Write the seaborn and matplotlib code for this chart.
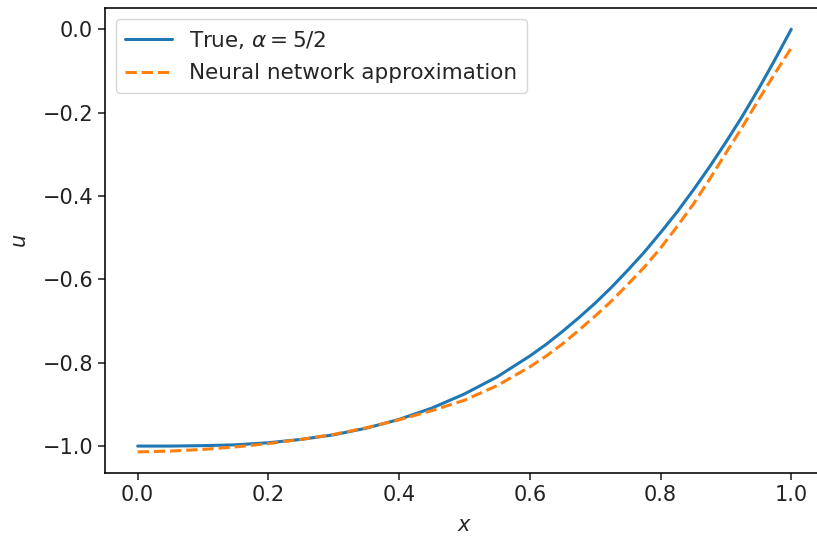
import numpy as np
import pandas as pd
import seaborn as sns
import matplotlib
matplotlib.use("Agg")
import matplotlib.pyplot as plt

# Sample positions on [0, 1]
x_vals = [0.000, 0.050, 0.100, 0.150, 0.200, 0.250, 0.300, 0.350, 0.400,
          0.450, 0.500, 0.550, 0.600, 0.625, 0.650, 0.675, 0.700, 0.725,
          0.750, 0.775, 0.800, 0.825, 0.850, 0.875, 0.900, 0.925, 0.950,
          0.975, 1.000]

# Exact solution
u_true = [-1.000, -1.000, -0.999, -0.997, -0.992, -0.984, -0.973, -0.957,
          -0.936, -0.909, -0.875, -0.834, -0.784, -0.756, -0.725, -0.692,
          -0.657, -0.619, -0.578, -0.535, -0.488, -0.439, -0.386, -0.330,
          -0.271, -0.209, -0.143, -0.073, 0.000]

# Network output
u_nn = [-1.014, -1.012, -1.008, -1.002, -0.994, -0.984, -0.972, -0.956,
        -0.937, -0.915, -0.890, -0.855, -0.810, -0.784, -0.755, -0.722,
        -0.688, -0.652, -0.612, -0.571, -0.525, -0.474, -0.420, -0.360,
        -0.297, -0.235, -0.169, -0.106, -0.045]

label_true = r"True, $\alpha = 5/2$"
label_nn = "Neural network approximation"

df_true = pd.DataFrame({"x": x_vals, "u": u_true})
df_nn = pd.DataFrame({"x": x_vals, "u": u_nn})

sns.set_theme(style="ticks", rc={
    "axes.edgecolor": "black",
    "axes.linewidth": 1.15,
    "xtick.major.width": 1.15,
    "ytick.major.width": 1.15,
    "xtick.major.size": 5.0,
    "ytick.major.size": 5.0,
    "xtick.color": "#222222",
    "ytick.color": "#222222",
    "font.size": 15,
    "axes.labelsize": 15,
    "xtick.labelsize": 15,
    "ytick.labelsize": 15,
    "legend.fontsize": 15.5,
    "mathtext.fontset": "dejavusans",
})
plt.rcParams["font.family"] = ["DejaVu Sans"]

fig = plt.figure(figsize=(8.17, 5.40), dpi=100)
ax = fig.add_axes([0.1285, 0.124, 0.880, 0.861])

sns.lineplot(data=df_true, x="x", y="u", ax=ax, color="#1f77b4",
             linewidth=2.2, label=label_true)
sns.lineplot(data=df_nn, x="x", y="u", ax=ax, color="#ff7f0e",
             linewidth=2.2, linestyle="--", label=label_nn)

ax.set_xticks([0.0, 0.2, 0.4, 0.6, 0.8, 1.0])
ax.set_yticks([0.0, -0.2, -0.4, -0.6, -0.8, -1.0])
ax.set_xlabel(r"$x$", labelpad=7)
ax.set_ylabel(r"$u$", labelpad=9)
ax.margins(x=0.05, y=0.05)

leg = ax.legend(loc="upper left", frameon=True, fancybox=True,
                framealpha=0.8, edgecolor="#cccccc",
                handlelength=2.15, handletextpad=0.8,
                borderpad=0.45, labelspacing=0.6)

fig.savefig("out.png", dpi=100)
